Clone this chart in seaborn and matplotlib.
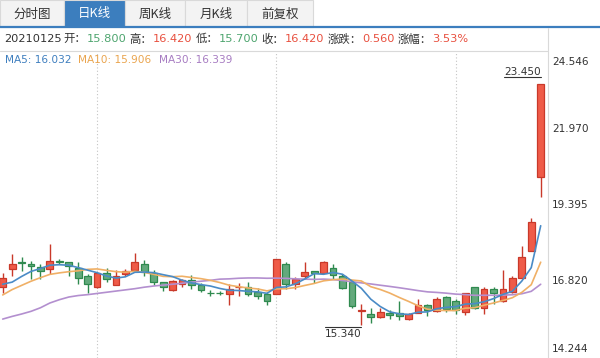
import numpy as np
import pandas as pd
import matplotlib
matplotlib.use("Agg")
import matplotlib.pyplot as plt
from matplotlib.patches import Rectangle
from matplotlib.lines import Line2D
from matplotlib import transforms
import seaborn as sns

# Entorno visual
sns.set_theme(style="white")
plt.rcParams['font.family'] = ['DejaVu Sans', 'Noto Sans CJK SC']

#========= Datos =========#
opens = [16.61, 17.22, 17.45, 17.39, 17.30, 17.22, 17.50, 17.45, 17.25, 17.00,
         16.63, 17.08, 16.70, 17.06, 17.19, 17.39, 17.08, 16.78, 16.53, 16.72,
         16.85, 16.71, 16.43, 16.44, 16.38, 16.61, 16.63, 16.45, 16.38, 16.38,
         17.39, 16.73, 17.00, 17.15, 17.09, 17.28, 16.98, 16.81, 15.83, 15.71,
         15.62, 15.74, 15.76, 15.56, 15.77, 16.01, 15.82, 16.30, 16.16, 15.80,
         16.61, 15.93, 16.55, 16.16, 16.46, 16.94, 17.84, 20.31]
highs = [17.09, 17.75, 17.62, 17.50, 17.39, 18.06, 17.58, 17.47, 17.45, 17.05,
         17.10, 17.25, 17.20, 17.22, 17.78, 17.53, 17.19, 16.81, 16.86, 16.90,
         17.03, 16.75, 16.51, 16.50, 16.73, 16.75, 16.80, 16.59, 16.45, 17.56,
         17.47, 16.95, 17.45, 17.16, 17.50, 17.39, 17.05, 16.85, 16.04, 15.93,
         15.93, 15.87, 16.16, 15.76, 16.21, 16.04, 16.30, 16.32, 16.21, 16.42,
         16.61, 16.61, 16.61, 17.19, 17.00, 17.99, 18.93, 23.45]
lows = [16.41, 16.98, 17.17, 16.91, 16.91, 17.05, 17.39, 17.00, 16.72, 16.41,
        16.60, 16.81, 16.70, 17.00, 17.16, 17.00, 16.70, 16.50, 16.50, 16.62,
        16.56, 16.45, 16.31, 16.36, 16.02, 16.32, 16.32, 16.21, 16.02, 16.38,
        16.56, 16.56, 16.89, 16.76, 17.08, 16.89, 16.57, 15.92, 15.34, 15.43,
        15.59, 15.54, 15.52, 15.52, 15.77, 15.66, 15.79, 15.79, 15.73, 15.70,
        15.90, 15.71, 16.05, 16.12, 16.42, 16.94, 17.84, 19.64]
closes = [16.94, 17.39, 17.42, 17.33, 17.15, 17.50, 17.47, 17.33, 16.94, 16.72,
          17.08, 16.91, 16.98, 17.15, 17.48, 17.12, 16.81, 16.64, 16.83, 16.87,
          16.68, 16.51, 16.41, 16.42, 16.57, 16.63, 16.38, 16.32, 16.17, 17.56,
          16.72, 16.89, 17.13, 17.08, 17.45, 17.02, 16.59, 16.00, 15.85, 15.63,
          15.79, 15.70, 15.67, 15.73, 16.01, 15.85, 16.23, 15.90, 15.86, 16.42,
          15.93, 16.55, 16.42, 16.57, 16.94, 17.65, 18.80, 23.45]

# Valores de las medias antes de completar la ventana
ma5_head = [16.72, 16.79, 16.98, 17.15]
ma10_head = [16.36, 16.54, 16.68, 16.82, 16.94, 17.05, 17.10, 17.14, 17.17]
ma30_head = [15.55, 15.64, 15.72, 15.81, 15.93, 16.09, 16.20, 16.29, 16.34, 16.37,
             16.41, 16.45, 16.49, 16.53, 16.57, 16.62, 16.66, 16.69, 16.72, 16.75,
             16.79, 16.82, 16.85, 16.89, 16.90, 16.92, 16.93, 16.93, 16.92]

ytick_vals = [14.244, 16.820, 19.395, 21.970, 24.546]
tabs = ["分时图", "日K线", "周K线", "月K线", "前复权"]
info_date = "20210125"
info_labels = ["开：", "高：", "低：", "收：", "涨跌：", "涨幅："]
info_values = ["15.800", "16.420", "15.700", "16.420", "0.560", "3.53%"]
ma_names = ["MA5", "MA10", "MA30"]
ma_values = ["16.032", "15.906", "16.339"]

df = pd.DataFrame({'open': opens, 'high': highs, 'low': lows, 'close': closes})
df['idx'] = np.arange(len(df))
ma5 = df['close'].rolling(5).mean().to_numpy()
ma5[:4] = ma5_head
ma10 = df['close'].rolling(10).mean().to_numpy()
ma10[:9] = ma10_head
ma30 = df['close'].rolling(30).mean().to_numpy()
ma30[:29] = ma30_head

#========= Colores =========#
dark = '#333333'
red_fill, red_edge = '#ef5b48', '#c9392a'
green_fill, green_edge = '#63a97c', '#2f8a4f'
red_txt, green_txt = '#e8503f', '#4ea56f'
ma_colors = ['#4a8bc6', '#f0b066', '#b38fcf']
ma_txt_colors = ['#3f7fbf', '#eaa54f', '#a77cc2']
blue_tab = '#3c7ebe'
border = '#d9d9d9'
cjk = ['Noto Sans CJK SC', 'DejaVu Sans']

#========= Figura =========#
W, H = 600, 358
top_plot, right_plot = 51, 548
fig = plt.figure(figsize=(W / 100, H / 100), dpi=100)
ax = fig.add_axes([0, 0, right_plot / W, (H - top_plot) / H])

# Velas
up = df['close'] >= df['open']
fill = np.where(up, red_fill, green_fill)
edge = np.where(up, red_edge, green_edge)
ax.vlines(df['idx'], df['low'], df['high'], colors=edge, lw=1.0, zorder=2)
body_lo = np.minimum(df['open'], df['close'])
body_h = np.maximum((df['close'] - df['open']).abs(), 0.012)
ax.bar(df['idx'], body_h, bottom=body_lo, width=0.72, color=fill,
       edgecolor=edge, linewidth=0.9, zorder=3)

# Medias moviles
for vals, col in zip([ma30, ma10, ma5], [ma_colors[2], ma_colors[1], ma_colors[0]]):
    sns.lineplot(x=df['idx'], y=vals, ax=ax, color=col, lw=1.2, zorder=4)

ax.set_xlim(-0.286, 57.774)
ax.set_ylim(ytick_vals[0], ytick_vals[-1])
ax.set_xticks([10, 29, 48])
ax.set_xticklabels([])
ax.set_yticks([])
ax.set_xlabel("")
ax.set_ylabel("")
ax.tick_params(length=0)
ax.grid(axis='x', color='#c4c4c4', ls=(0, (1, 2)), lw=0.8)
for s in ax.spines.values():
    s.set_visible(False)

# Etiquetas del eje derecho
shifts = [9, 0, 0, -1, -11]
for v, dy in zip(ytick_vals, shifts):
    tr = transforms.offset_copy(ax.get_yaxis_transform(), fig=fig, x=4, y=dy, units='dots')
    ax.text(1, v, f"{v:.3f}", transform=tr, ha='left', va='center',
            fontsize=7.6, color=dark, clip_on=False)

# Maximo y minimo
hi_i = df['high'].idxmax()
lo_i = df['low'].idxmin()
t_hi = ax.annotate(f"{df['high'][hi_i]:.3f}", xy=(hi_i, df['high'][hi_i]), xytext=(0, 9),
                   textcoords='offset pixels', ha='right', va='baseline', fontsize=7.6, color=dark)
t_lo = ax.annotate(f"{df['low'][lo_i]:.3f}", xy=(lo_i, df['low'][lo_i]), xytext=(0, -4),
                   textcoords='offset pixels', ha='right', va='top', fontsize=7.6, color=dark)

#========= Capa superior (pestañas, cabecera) =========#
ov = fig.add_axes([0, 0, 1, 1], zorder=5)
ov.set_xlim(0, W)
ov.set_ylim(H, 0)
ov.axis('off')

tab_edges = [0, 64, 125, 185, 247, 313]
for k, name in enumerate(tabs):
    x0, x1 = tab_edges[k], tab_edges[k + 1]
    sel = (k == 1)
    ov.add_patch(Rectangle((x0, 0), x1 - x0, 27, fc=blue_tab if sel else '#f3f3f3',
                           ec=border, lw=0.8))
    ov.text((x0 + x1) / 2, 14, name, ha='center', va='center', fontsize=9,
            color='white' if sel else dark, family=cjk)
ov.plot([0, W], [27, 27], color=blue_tab, lw=1.6)
ov.plot([0, right_plot], [top_plot, top_plot], color=border, lw=0.8)
ov.plot([right_plot, right_plot], [28, H], color=border, lw=0.8)

rend = fig.canvas.get_renderer()


def put(x, text, color, family=None, gap=0.0):
    # escribe un texto y devuelve la x (pixeles) donde termina
    t = ov.text(x, 39, text, ha='left', va='center', fontsize=8.2, color=color,
                family=family if family else plt.rcParams['font.family'])
    bb = t.get_window_extent(rend)
    return x + bb.width + gap


# Linea de informacion
value_cols = [green_txt, red_txt, green_txt, red_txt, red_txt, red_txt]
cur = put(4, info_date, dark, gap=2)
for lab, val, col in zip(info_labels, info_values, value_cols):
    cur = put(cur, lab, dark, family=cjk, gap=0.5)
    cur = put(cur, val, col, gap=3)

# Leyenda de medias
for mx, name, val, col in zip([5, 78, 159], ma_names, ma_values, ma_txt_colors):
    ov.text(mx, 60, f"{name}: {val}", ha='left', va='center', fontsize=7.6, color=col)

# Subrayado del maximo y linea del minimo
fig.canvas.draw()
rend = fig.canvas.get_renderer()
bb = t_hi.get_window_extent(rend)
y_hi = ax.transData.transform((hi_i, df['high'][hi_i]))[1] + 7
fig.add_artist(Line2D([bb.x0, bb.x1], [y_hi, y_hi], transform=transforms.IdentityTransform(),
                      color=dark, lw=0.8))
bb = t_lo.get_window_extent(rend)
y_lo = ax.transData.transform((lo_i, df['low'][lo_i]))[1] - 2
fig.add_artist(Line2D([bb.x0, bb.x1], [y_lo, y_lo], transform=transforms.IdentityTransform(),
                      color=dark, lw=0.8))

fig.savefig("out.png", dpi=100)
